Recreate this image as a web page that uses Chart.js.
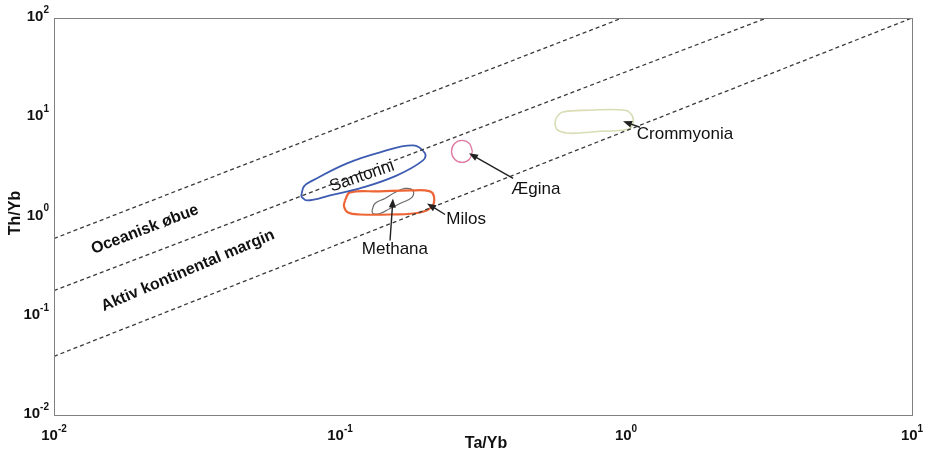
<!DOCTYPE html>
<html>
<head>
<meta charset="utf-8">
<script src="https://cdn.jsdelivr.net/npm/chart.js@4.4.1/dist/chart.umd.min.js"></script>
<style>
  html, body { margin: 0; padding: 0; background: #fff; }
  #wrap { width: 937px; height: 452px; }
</style>
</head>
<body>
<div id="wrap"><canvas id="plot"></canvas></div>
<script>
// axis ticks (powers of ten)
const xTickExp = [-2, -1, 0, 1];
const yTickExp = [-2, -1, 0, 1, 2];

// dashed boundary lines [Ta/Yb, Th/Yb]
const lineUpper = [[0.01, 0.6], [0.97, 100]];
const lineMiddle = [[0.01, 0.179], [3.1, 100]];
const lineLower = [[0.01, 0.039], [10, 100]];

// field outlines [Ta/Yb, Th/Yb]
const santorini = [[0.0731, 1.592], [0.0748, 2.01], [0.0804, 2.31], [0.1058, 3.43], [0.138, 4.43],
    [0.18, 5.21], [0.1982, 4.33], [0.1951, 3.68], [0.1583, 2.60], [0.1203, 1.963], [0.0923, 1.63],
    [0.0767, 1.451]];
const milos = [[0.1041, 1.451], [0.1084, 1.748], [0.138, 1.789], [0.1758, 1.831], [0.2064, 1.789],
    [0.2133, 1.556], [0.2099, 1.262], [0.1905, 1.098], [0.1496, 1.048], [0.1175, 1.048], [0.1067, 1.098],
    [0.1033, 1.262]];
const methana = [[0.1294, 1.150], [0.1325, 1.353], [0.1436, 1.52], [0.1556, 1.748], [0.1687, 1.918],
    [0.1799, 1.831], [0.1785, 1.556], [0.1622, 1.353], [0.1496, 1.205], [0.138, 1.072], [0.1304, 1.072]];
const aegina = [[0.2904, 4.53], [0.2834, 5.44], [0.267, 5.86], [0.2516, 5.44], [0.2454, 4.53],
    [0.2516, 3.78], [0.267, 3.51], [0.2834, 3.78]];
const crommyonia = [[0.569, 9.77], [0.597, 11.23], [0.748, 11.77], [0.992, 11.77], [1.049, 10.47],
    [1.058, 8.69], [1.016, 7.56], [0.811, 7.22], [0.637, 6.89], [0.578, 7.39], [0.565, 8.50]];

// arrows [tail, head]
const arrows = [
  [[0.233, 1.048], [0.2015, 1.353]],
  [[0.1496, 0.573], [0.1532, 1.52]],
  [[0.403, 2.42], [0.2825, 4.33]],
  [[1.119, 7.93], [0.976, 9.11]]
];

// labels
const labelTexts = ['Santorini', 'Milos', 'Methana', 'Ægina', 'Crommyonia', 'Oceanisk øbue', 'Aktiv kontinental margin'];
const labelPos = [[0.1194, 2.54], [0.276, 0.933], [0.1556, 0.464], [0.484, 1.875], [1.608, 6.73], [0.0208, 0.739], [0.0294, 0.285]];
const labelAngle = [-19, 0, 0, 0, 0, -21, -23];
const labelBold = [false, false, false, false, false, true, true];

const toPts = arr => arr.map(p => ({ x: p[0], y: p[1] }));
const closed = arr => toPts(arr.concat([arr[0]]));

function dashed(arr) {
  return {
    data: toPts(arr), showLine: true, borderColor: '#3a3a3a', borderWidth: 1.3,
    borderDash: [4, 3], pointRadius: 0, tension: 0
  };
}
function outline(arr, color, w) {
  return {
    data: closed(arr), showLine: true, borderColor: color, borderWidth: w,
    pointRadius: 0, tension: 0.4
  };
}

const FONT = '"Liberation Sans", Arial, sans-serif';

const decorPlugin = {
  id: 'decor',
  afterDraw(chart) {
    const ctx = chart.ctx;
    const xs = chart.scales.x, ys = chart.scales.y;
    const a = chart.chartArea;
    ctx.save();
    // box
    ctx.strokeStyle = '#808080';
    ctx.lineWidth = 1;
    ctx.strokeRect(a.left + 0.5, a.top + 0.5, a.right - a.left, a.bottom - a.top);

    // arrows
    ctx.strokeStyle = '#222';
    ctx.fillStyle = '#222';
    arrows.forEach(ar => {
      const x1 = xs.getPixelForValue(ar[0][0]), y1 = ys.getPixelForValue(ar[0][1]);
      const x2 = xs.getPixelForValue(ar[1][0]), y2 = ys.getPixelForValue(ar[1][1]);
      const ang = Math.atan2(y2 - y1, x2 - x1);
      const hl = 9, hw = 3.5;
      ctx.lineWidth = 1.4;
      ctx.beginPath();
      ctx.moveTo(x1, y1);
      ctx.lineTo(x2 - Math.cos(ang) * hl * 0.8, y2 - Math.sin(ang) * hl * 0.8);
      ctx.stroke();
      ctx.beginPath();
      ctx.moveTo(x2, y2);
      ctx.lineTo(x2 - Math.cos(ang) * hl + Math.sin(ang) * hw, y2 - Math.sin(ang) * hl - Math.cos(ang) * hw);
      ctx.lineTo(x2 - Math.cos(ang) * hl - Math.sin(ang) * hw, y2 - Math.sin(ang) * hl + Math.cos(ang) * hw);
      ctx.closePath();
      ctx.fill();
    });

    // labels
    labelTexts.forEach((t, i) => {
      const px = xs.getPixelForValue(labelPos[i][0]);
      const py = ys.getPixelForValue(labelPos[i][1]);
      ctx.save();
      ctx.translate(px, py);
      ctx.rotate(labelAngle[i] * Math.PI / 180);
      ctx.font = labelBold[i] ? 'bold 16px ' + FONT : '17px ' + FONT;
      ctx.fillStyle = '#111';
      ctx.textAlign = 'center';
      ctx.textBaseline = 'middle';
      ctx.fillText(t, 0, 0);
      ctx.restore();
    });

    // tick labels 10^n
    const drawPow = (e, x, y, align) => {
      ctx.font = 'bold 15px ' + FONT;
      const bw = ctx.measureText('10').width;
      ctx.font = 'bold 10px ' + FONT;
      const es = e < 0 ? '-' + Math.abs(e) : String(e);
      const ew = ctx.measureText(es).width;
      let left = align === 'right' ? x - bw - ew : x - (bw + ew) / 2;
      ctx.fillStyle = '#111';
      ctx.textAlign = 'left';
      ctx.textBaseline = 'middle';
      ctx.font = 'bold 15px ' + FONT;
      ctx.fillText('10', left, y);
      ctx.font = 'bold 10px ' + FONT;
      ctx.fillText(es, left + bw, y - 7);
    };
    xTickExp.forEach(e => drawPow(e, xs.getPixelForValue(Math.pow(10, e)), a.bottom + 21, 'center'));
    yTickExp.forEach(e => drawPow(e, a.left - 5, ys.getPixelForValue(Math.pow(10, e)) - 1, 'right'));

    // axis titles
    ctx.font = 'bold 16px ' + FONT;
    ctx.textAlign = 'center';
    ctx.textBaseline = 'middle';
    ctx.fillText('Ta/Yb', 486, 444);
    ctx.save();
    ctx.translate(16, 213);
    ctx.rotate(-Math.PI / 2);
    ctx.fillText('Th/Yb', 0, 0);
    ctx.restore();
    ctx.restore();
  }
};

document.addEventListener('DOMContentLoaded', function() {
  new Chart(document.getElementById('plot').getContext('2d'), {
    type: 'scatter',
    data: {
      datasets: [
        dashed(lineUpper),
        dashed(lineMiddle),
        dashed(lineLower),
        outline(santorini, '#3d5cb2', 1.8),
        outline(milos, '#ee6535', 2.2),
        outline(methana, '#6b6b6b', 1.2),
        outline(aegina, '#e07aa2', 1.3),
        outline(crommyonia, '#d9dcb4', 1.6)
      ]
    },
    options: {
      responsive: true,
      maintainAspectRatio: false,
      animation: false,
      layout: { padding: { top: 18, right: 25, left: 0, bottom: 0 } },
      plugins: { legend: { display: false }, tooltip: { enabled: false } },
      scales: {
        x: {
          type: 'logarithmic', min: 0.01, max: 10,
          ticks: { display: false }, grid: { display: false }, border: { display: false },
          afterFit(s) { s.height = 37; }
        },
        y: {
          type: 'logarithmic', min: 0.01, max: 100,
          ticks: { display: false }, grid: { display: false }, border: { display: false },
          afterFit(s) { s.width = 54; }
        }
      }
    },
    plugins: [decorPlugin]
  });
});
</script>
</body>
</html>
